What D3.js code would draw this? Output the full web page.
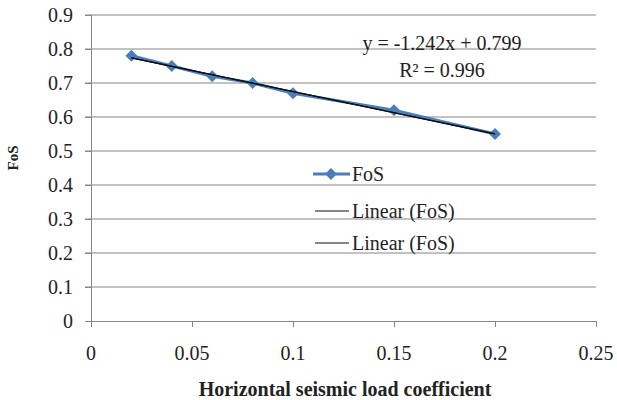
<!DOCTYPE html>
<meta charset="utf-8">
<body style="margin:0; background:#fff">
<script src="https://d3js.org/d3.v7.min.js"></script>
<script>
var width = 617, height = 400;
var FONT = "Liberation Serif";
var BASE = 16; // render text at this size and scale it up

// data
var coeff = [0.02, 0.04, 0.06, 0.08, 0.1, 0.15, 0.2];
var fos = [0.78, 0.75, 0.72, 0.70, 0.67, 0.62, 0.55];
var slope = -1.242, intercept = 0.799;
var xTicks = [0, 0.05, 0.1, 0.15, 0.2, 0.25];
var yTicks = [0, 0.1, 0.2, 0.3, 0.4, 0.5, 0.6, 0.7, 0.8, 0.9];
var legendLabels = ["FoS", "Linear (FoS)", "Linear (FoS)"];

var x = d3.scaleLinear().domain([0, 0.25]).range([91, 596]);
var y = d3.scaleLinear().domain([0, 0.9]).range([321, 15]);

var svg = d3.select("body").append("svg")
    .attr("width", width)
    .attr("height", height);

function label(parent, px, py, txt, size, anchor, extra) {
  return parent.append("text")
    .attr("transform", "translate(" + px + "," + py + ")" + (extra || "") + " scale(" + (size / BASE) + ")")
    .attr("text-anchor", anchor || "start")
    .attr("font-family", FONT).attr("font-size", BASE).attr("fill", "#222")
    .text(txt);
}

// gridlines
svg.append("g").selectAll("line")
    .data(yTicks.slice(1))
    .enter().append("line")
    .attr("x1", x(0) - 6).attr("x2", x(0.25))
    .attr("y1", d => y(d)).attr("y2", d => y(d))
    .attr("stroke", "#868686").attr("stroke-width", 1);

// y axis
var yAxis = svg.append("g")
    .attr("transform", "translate(" + x(0) + ",0)")
    .call(d3.axisLeft(y).tickValues(yTicks).tickSize(6).tickFormat(""));
yAxis.select(".domain").attr("stroke", "#868686");
yAxis.selectAll(".tick line").attr("stroke", "#868686");
yTicks.forEach(function(t) {
  label(svg, x(0) - 18, y(t) + 7, d3.format("")(t), 20, "end");
});

// x axis
var xAxis = svg.append("g")
    .attr("transform", "translate(0," + y(0) + ")")
    .call(d3.axisBottom(x).tickValues(xTicks).tickSize(6).tickFormat(""));
xAxis.select(".domain").attr("stroke", "#868686");
xAxis.selectAll(".tick line").attr("stroke", "#868686");
xTicks.forEach(function(t) {
  label(svg, x(t), y(0) + 39, d3.format("")(t), 20, "middle");
});

// series
var pts = coeff.map((c, i) => [c, fos[i]]);
svg.append("path")
    .datum(pts)
    .attr("fill", "none")
    .attr("stroke", "#4a7ebb")
    .attr("stroke-width", 3)
    .attr("d", d3.line().x(d => x(d[0])).y(d => y(d[1])));

var diamond = d3.symbol().type(d3.symbolDiamond2).size(90);
svg.append("g").selectAll("path")
    .data(pts)
    .enter().append("path")
    .attr("d", diamond)
    .attr("transform", d => "translate(" + x(d[0]) + "," + y(d[1]) + ")")
    .attr("fill", "#4a7ebb");

// trendlines (two identical)
var xs = [coeff[0], coeff[coeff.length - 1]];
[0, 1].forEach(function() {
  svg.append("line")
    .attr("x1", x(xs[0])).attr("y1", y(slope * xs[0] + intercept))
    .attr("x2", x(xs[1])).attr("y2", y(slope * xs[1] + intercept))
    .attr("stroke", "#111").attr("stroke-width", 1.3);
});

// equation
label(svg, 442, 50, "y = -1.242x + 0.799", 20, "middle");
label(svg, 442, 77, "R\u00b2 = 0.996", 20, "middle");

// legend
var legY = [174, 211, 243];
legendLabels.forEach(function(lbl, i) {
  var g = svg.append("g").attr("transform", "translate(0," + legY[i] + ")");
  if (i === 0) {
    g.append("line").attr("x1", 313).attr("x2", 350)
      .attr("stroke", "#4a7ebb").attr("stroke-width", 3);
    g.append("path").attr("d", diamond).attr("transform", "translate(331,0)").attr("fill", "#4a7ebb");
  } else {
    g.append("line").attr("x1", 315).attr("x2", 349)
      .attr("stroke", "#111").attr("stroke-width", 1.2);
  }
  label(g, 352, 7, lbl, 20, "start");
});

// axis titles
label(svg, 18, 158, "FoS", 15, "middle", " rotate(-90)").attr("font-weight", "bold");
label(svg, 345, 396, "Horizontal seismic load coefficient", 20, "middle").attr("font-weight", "bold");
</script>
</body>
